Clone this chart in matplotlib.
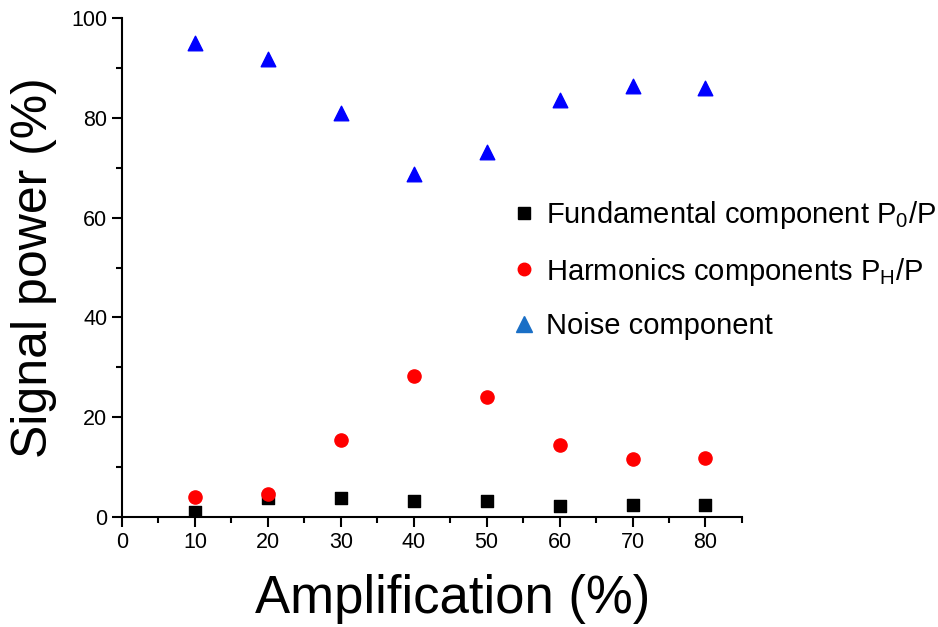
import matplotlib
matplotlib.use("Agg")
import matplotlib.pyplot as plt
from matplotlib.lines import Line2D
from matplotlib.ticker import MultipleLocator

plt.rcParams['font.family'] = ['Liberation Sans', 'DejaVu Sans']
plt.rcParams['mathtext.fontset'] = 'custom'
plt.rcParams['mathtext.rm'] = 'Liberation Sans'

amplification = [10, 20, 30, 40, 50, 60, 70, 80]
fundamental = [1.0, 3.8, 3.8, 3.2, 3.2, 2.2, 2.4, 2.4]
harmonics = [4.0, 4.6, 15.4, 28.3, 24.0, 14.4, 11.6, 11.8]
noise = [95.0, 91.8, 81.0, 68.7, 73.1, 83.6, 86.4, 86.0]

labels = [r'Fundamental component $\mathregular{P_0/P}$',
          r'Harmonics components $\mathregular{P_H/P}$',
          'Noise component']

fig = plt.figure(figsize=(9.38, 6.27), dpi=100)
ax = fig.add_axes([0.130, 0.1754, 0.661, 0.7959])

ax.scatter(amplification, fundamental, marker='s', s=75, color='black', zorder=3)
ax.scatter(amplification, harmonics, marker='o', s=90, color='#ff0000', zorder=3)
ax.scatter(amplification, noise, marker='^', s=110, color='#0000ff', zorder=3)

ax.set_xlim(0, 85)
ax.set_ylim(0, 100)
ax.xaxis.set_major_locator(MultipleLocator(10))
ax.xaxis.set_minor_locator(MultipleLocator(5))
ax.yaxis.set_major_locator(MultipleLocator(20))
ax.yaxis.set_minor_locator(MultipleLocator(10))

for side in ('top', 'right'):
    ax.spines[side].set_visible(False)
for side in ('left', 'bottom'):
    ax.spines[side].set_linewidth(1.5)

ax.tick_params(which='major', direction='out', length=7, width=1.5, labelsize=15.5)
ax.tick_params(which='minor', direction='out', length=4, width=1.5)

ax.set_xlabel('Amplification (%)', fontsize=38, labelpad=16)
ax.xaxis.set_label_coords(0.534, -0.115)
ax.set_ylabel('Signal power (%)', fontsize=36, labelpad=10)

handles = [
    Line2D([], [], linestyle='none', marker='s', markersize=9, color='black'),
    Line2D([], [], linestyle='none', marker='o', markersize=9, color='#ff0000'),
    Line2D([], [], linestyle='none', marker='^', markersize=11, color='#1a6fc6'),
]
fig.legend(handles, labels, loc='center left', bbox_to_anchor=(0.535, 0.570),
           frameon=False, fontsize=21, handlelength=0.75, handletextpad=0.35,
           labelspacing=0.85, borderaxespad=0)

fig.savefig('out.png', dpi=100)
